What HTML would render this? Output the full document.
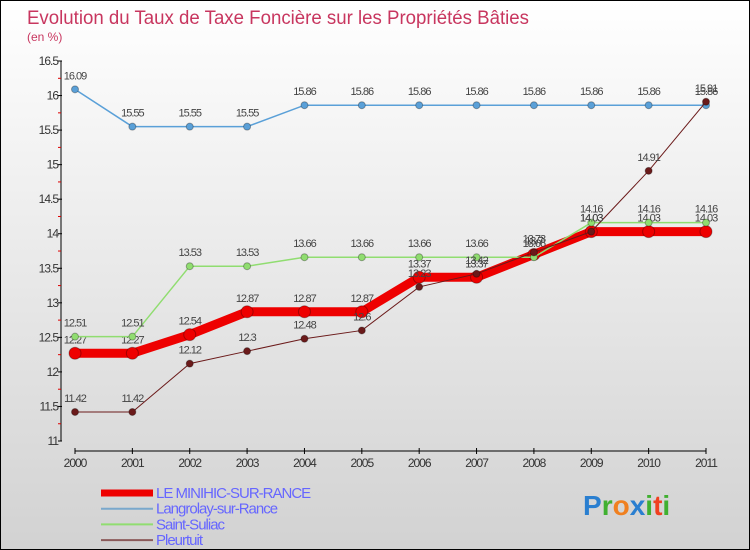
<!DOCTYPE html>
<html><head><meta charset="utf-8"><style>
body{margin:0}
#c{width:748px;height:548px;border:1px solid #000;background:linear-gradient(#fff,#d2d2d2);position:relative;font-family:"Liberation Sans",sans-serif;overflow:hidden}
</style></head><body>
<div id="c">
<svg id="s" width="748" height="548"></svg>
</div>
<script>
const years=[2000,2001,2002,2003,2004,2005,2006,2007,2008,2009,2010,2011];
const yTicks=[11,11.5,12,12.5,13,13.5,14,14.5,15,15.5,16,16.5];
const minihic=[12.27,12.27,12.54,12.87,12.87,12.87,13.37,13.37,13.7,14.03,14.03,14.03];
const langrolay=[16.09,15.55,15.55,15.55,15.86,15.86,15.86,15.86,15.86,15.86,15.86,15.86];
const suliac=[12.51,12.51,13.53,13.53,13.66,13.66,13.66,13.66,13.66,14.16,14.16,14.16];
const pleurtuit=[11.42,11.42,12.12,12.3,12.48,12.6,13.23,13.42,13.73,14.03,14.91,15.91];
const NS="http://www.w3.org/2000/svg",s=document.getElementById('s');
const X=i=>74+i*(631/11), Y=v=>440-(v-11)*(380/5.5);
function el(t,a,p){const e=document.createElementNS(NS,t);for(const k in a)e.setAttribute(k,a[k]);(p||s).appendChild(e);return e;}
let t=el('text',{x:26,y:23,fill:'#c8365f','font-size':19,textLength:502,lengthAdjust:'spacingAndGlyphs'});t.textContent='Evolution du Taux de Taxe Foncière sur les Propriétés Bâties';

t=el('text',{x:26,y:40,fill:'#c8365f','font-size':12});t.textContent='(en %)';

let a=el('line',{x1:60,y1:Y(16.5),x2:60,y2:Y(11),stroke:'#000'});
a=el('line',{x1:X(0),y1:450,x2:X(11),y2:450,stroke:'#000'});
yTicks.forEach(v=>{el('line',{x1:57,y1:Y(v),x2:61,y2:Y(v),stroke:'#000'});
 el('line',{x1:57,y1:Y(v)+17.3,x2:60,y2:Y(v)+17.3,stroke:v>11?'#d00':'none'});
 const l=el('text',{x:57,y:Y(v)+4,'text-anchor':'end','font-size':12,fill:'#333','letter-spacing':-1});l.textContent=v;
 });
years.forEach((y,i)=>{el('line',{x1:X(i),y1:447,x2:X(i),y2:453,stroke:'#000'});
 const l=el('text',{x:X(i),y:466,'text-anchor':'middle','font-size':12,fill:'#333','letter-spacing':-1});l.textContent=y;
 });
function series(d,col,w,r,name){const g=el('g',{});
 el('polyline',{points:d.map((v,i)=>X(i)+','+Y(v)).join(' '),fill:'none',stroke:col,'stroke-width':w},g);
 d.forEach((v,i)=>{const c=el('circle',{cx:X(i),cy:Y(v),r:r,fill:col,stroke:'rgba(0,0,0,0.3)'},g);
  
  const l=el('text',{x:X(i),y:Y(v)-10,'text-anchor':'middle','font-size':11,fill:'#444','letter-spacing':-1},g);l.textContent=v;
  });}
series(minihic,'#ee0000',9,6,'minihic');
series(langrolay,'#5aa0d8',1.5,3.5,'langrolay');
series(suliac,'#90dd70',1.5,3.5,'suliac');
series(pleurtuit,'#6b1a1a',1,3.5,'pleurtuit');
const leg=[['LE MINIHIC-SUR-RANCE','#ee0000',7],['Langrolay-sur-Rance','#7aa8cc',2],['Saint-Suliac','#90dd70',2],['Pleurtuit','#8b5a5a',2]];
leg.forEach((e,i)=>{const y=490+i*15.7;const g=el('g',{});
 el('line',{x1:100,y1:y+2,x2:152,y2:y+2,stroke:e[1],'stroke-width':e[2]},g);
 const l=el('text',{x:155,y:y+7,'font-size':15,fill:'#6666ff','letter-spacing':-1},g);l.textContent=e[0];});
const lg=el('text',{x:582,y:514,'font-size':28,'font-weight':'bold'});
[['P','#2a7fd0'],['r','#40b030'],['o','#f08020'],['x','#2a7fd0'],['i','#40b030'],['t','#f04020'],['i','#40b030']].forEach(c=>{const sp=el('tspan',{fill:c[1]},lg);sp.textContent=c[0];});
</script>
</body></html>
